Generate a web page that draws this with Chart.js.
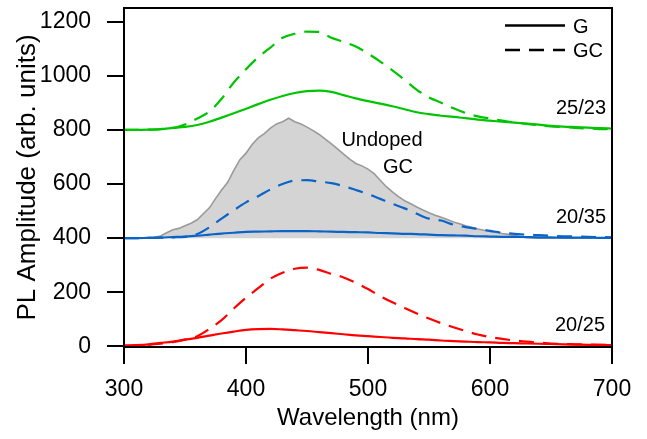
<!DOCTYPE html>
<html>
<head>
<meta charset="utf-8">
<title>PL Amplitude</title>
<script src="https://cdn.jsdelivr.net/npm/chart.js@4.4.1/dist/chart.umd.min.js"></script>
<style>
  html, body { margin: 0; padding: 0; background: #fff; }
  canvas { display: block; }
</style>
</head>
<body>
<canvas id="chartPL" width="647" height="439"></canvas>
<script>
// comprimentos de onda (nm)
const wavelength = [300, 310, 320, 330, 340, 350, 360, 370, 380, 390, 400, 410, 420, 430, 440, 450, 460, 470, 480, 490,
  500, 510, 520, 530, 540, 550, 560, 570, 580, 590, 600, 610, 620, 630, 640, 650, 660, 670, 680, 690, 700];

const wavelengthUndoped = [300, 305, 310, 315, 320, 325, 330, 335, 340, 345, 350, 355, 360, 365, 370, 375, 380, 385, 390, 395,
  400, 405, 410, 415, 420, 425, 430, 435, 440, 445, 450, 455, 460, 465, 470, 475, 480, 485, 490, 495,
  500, 505, 510, 515, 520, 525, 530, 535, 540, 545, 550, 555, 560, 565, 570, 575, 580, 585, 590, 595,
  600, 605, 610, 615, 620, 625, 630, 635, 640, 645, 650, 655, 660, 665, 670, 675, 680, 685, 690, 695, 700];

// 25/23 (verde)
const green_G = [800, 800, 801, 803, 807, 811, 818, 830, 845, 861, 878, 895, 911, 925, 936, 943, 945, 940, 928, 916,
  906, 897, 887, 876, 865, 858, 852, 848, 843, 838, 834, 830, 827, 823, 819, 815, 812, 810, 808, 806, 805];
const green_GC = [800, 800, 801, 803, 807, 820, 842, 868, 915, 975, 1024, 1068, 1104, 1140, 1155, 1163, 1162, 1140, 1125, 1108,
  1082, 1052, 1020, 985, 948, 920, 900, 880, 862, 850, 842, 834, 827, 822, 817, 813, 810, 807, 805, 803, 802];

// 20/35 (azul)
const blue_G = [400, 400, 401, 402, 404, 406, 409, 413, 417, 420, 423, 424, 425, 426, 426, 426, 425, 424, 423, 422,
  421, 419, 418, 416, 415, 413, 411, 410, 409, 407, 406, 405, 405, 404, 403, 403, 402, 402, 402, 401, 401];
const blue_GC = [400, 400, 401, 402, 403, 405, 415, 440, 472, 503, 532, 555, 580, 600, 613, 614, 609, 603, 592, 578,
  563, 545, 527, 510, 490, 472, 465, 450, 441, 434, 427, 420, 416, 413, 411, 409, 407, 406, 405, 404, 403];

// 20/25 (vermelho)
const red_G = [3, 5, 8, 13, 18, 25, 32, 40, 48, 55, 61, 64, 65, 63, 60, 57, 53, 49, 45, 41,
  38, 35, 32, 30, 27, 25, 22, 20, 18, 16, 15, 13, 12, 11, 10, 9, 8, 7, 6, 6, 5];
const red_GC = [3, 4, 6, 10, 16, 25, 38, 65, 97, 140, 180, 215, 250, 272, 287, 291, 283, 268, 255, 235,
  212, 186, 163, 142, 122, 103, 86, 71, 57, 44, 35, 28, 22, 18, 14, 11, 9, 8, 7, 6, 5];

// Undoped GC (area cinza)
const undoped_GC = [400, 400, 401, 401, 402, 403, 408, 420, 431, 436, 446, 455, 468, 490, 512, 546, 578, 606, 650, 690,
  714, 746, 770, 786, 806, 822, 830, 843, 830, 822, 810, 797, 783, 766, 748, 730, 710, 692, 676, 667,
  655, 638, 614, 590, 571, 553, 538, 527, 515, 504, 494, 485, 477, 469, 460, 453, 446, 440, 434, 429,
  425, 421, 417, 414, 410, 406, 403, 401, 400, 400, 400, 400, 400, 400, 400, 400, 400, 400, 400, 400, 400];

const xTicks = [300, 400, 500, 600, 700];
const yTicks = [0, 200, 400, 600, 800, 1000, 1200];

const FONT = "'Liberation Sans', Arial, sans-serif";
const GREEN = "#00c400";
const BLUE = "#0a64c8";
const RED = "#ff0000";
const DASH = [15, 9];

function pontos(xs, ys) {
  return xs.map((x, i) => ({ x: x, y: ys[i] }));
}

function serie(label, xs, ys, color, dashed) {
  return {
    label: label,
    data: pontos(xs, ys),
    borderColor: color,
    borderWidth: 2.2,
    borderDash: dashed ? DASH : [],
    pointRadius: 0,
    fill: false,
    cubicInterpolationMode: "monotone",
    order: 1,
  };
}

const frameAndNotes = {
  id: "frameAndNotes",
  afterDraw(chart) {
    const { ctx, chartArea: a } = chart;
    ctx.save();
    ctx.strokeStyle = "#000";
    ctx.lineWidth = 2;
    ctx.strokeRect(a.left, a.top, a.right - a.left, a.bottom - a.top);

    // legenda
    ctx.lineWidth = 2.5;
    ctx.beginPath();
    ctx.moveTo(a.right - 107, 25.5);
    ctx.lineTo(a.right - 47, 25.5);
    ctx.stroke();
    ctx.setLineDash(DASH);
    ctx.beginPath();
    ctx.moveTo(a.right - 107, 50);
    ctx.lineTo(a.right - 47, 50);
    ctx.stroke();
    ctx.setLineDash([]);

    ctx.fillStyle = "#000";
    ctx.font = "20px " + FONT;
    ctx.textBaseline = "middle";
    ctx.textAlign = "left";
    ctx.fillText("G", a.right - 39, 27);
    ctx.fillText("GC", a.right - 39, 51);

    ctx.textAlign = "right";
    ctx.fillText("25/23", a.right - 6, 108);
    ctx.fillText("20/35", a.right - 6, 217);
    ctx.fillText("20/25", a.right - 7, 325);

    ctx.textAlign = "center";
    ctx.fillText("Undoped", 382, 140);
    ctx.fillText("GC", 398, 167);
    ctx.restore();
  },
};

const ctx = document.getElementById("chartPL").getContext("2d");

new Chart(ctx, {
  type: "line",
  data: {
    datasets: [
      serie("20/25 G", wavelength, red_G, RED, false),
      serie("20/25 GC", wavelength, red_GC, RED, true),
      serie("20/35 G", wavelength, blue_G, BLUE, false),
      serie("20/35 GC", wavelength, blue_GC, BLUE, true),
      serie("25/23 G", wavelength, green_G, GREEN, false),
      serie("25/23 GC", wavelength, green_GC, GREEN, true),
      {
        label: "Undoped GC",
        data: pontos(wavelengthUndoped, undoped_GC),
        borderColor: "#9a9a9a",
        borderWidth: 1.6,
        backgroundColor: "#d4d4d4",
        pointRadius: 0,
        tension: 0,
        fill: { value: 400 },
        order: 10,
      },
    ],
  },
  options: {
    responsive: false,
    animation: false,
    devicePixelRatio: 1,
    layout: { padding: { top: 8, right: 35, bottom: 0, left: 0 } },
    plugins: {
      legend: { display: false },
      tooltip: { enabled: false },
    },
    scales: {
      x: {
        type: "linear",
        min: 300,
        max: 700,
        afterFit: (s) => { s.height = 92; },
        afterBuildTicks: (s) => { s.ticks = xTicks.map((v) => ({ value: v })); },
        grid: { drawOnChartArea: false, tickLength: 17, color: "#000", lineWidth: 2 },
        border: { color: "#000", width: 2 },
        ticks: { color: "#000", padding: 12, font: { family: FONT, size: 23 }, maxRotation: 0, callback: (v) => String(v) },
        title: {
          display: true,
          text: "Wavelength (nm)",
          color: "#000",
          font: { family: FONT, size: 24 },
          padding: { top: 0, bottom: 6 },
        },
      },
      y: {
        type: "linear",
        min: -2,
        max: 1250,
        afterFit: (s) => { s.width = 124; s.paddingTop = 0; s.paddingBottom = 0; },
        afterBuildTicks: (s) => { s.ticks = yTicks.map((v) => ({ value: v })); },
        grid: { drawOnChartArea: false, tickLength: 17, color: "#000", lineWidth: 2 },
        border: { color: "#000", width: 2 },
        ticks: { color: "#000", padding: 16, font: { family: FONT, size: 23 }, callback: (v) => String(v) },
        title: {
          display: true,
          text: "PL Amplitude (arb. units)",
          color: "#000",
          font: { family: FONT, size: 26 },
          padding: { top: 12, bottom: 0 },
        },
      },
    },
  },
  plugins: [frameAndNotes],
});
</script>
</body>
</html>
